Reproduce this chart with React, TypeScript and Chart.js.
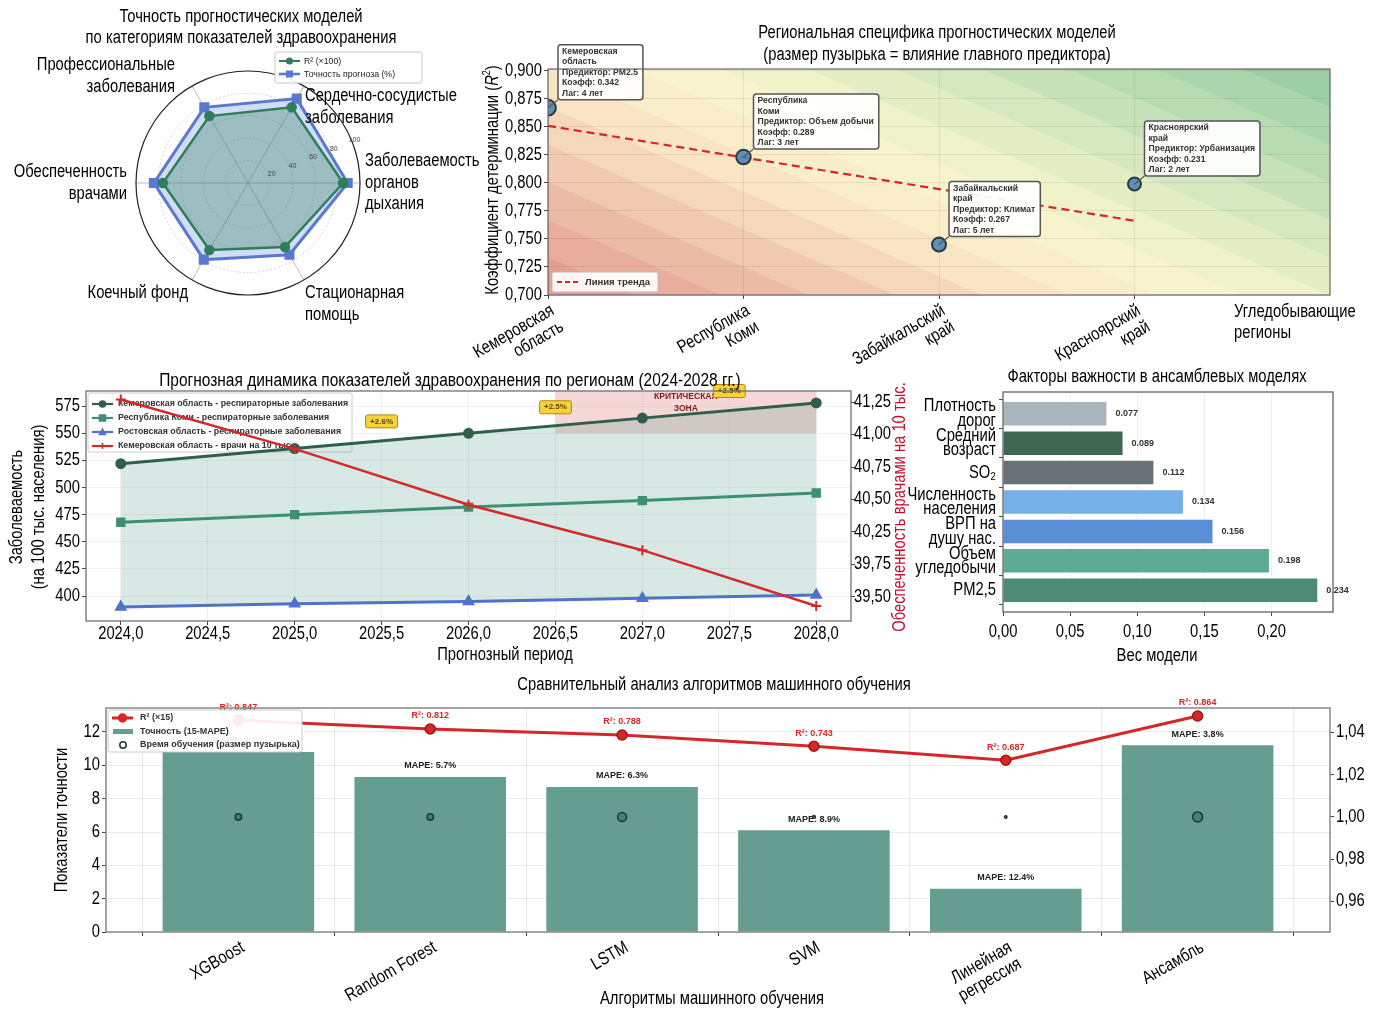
import React, { useEffect, useRef } from 'react';
import { Chart, registerables } from 'chart.js';

Chart.register(...registerables);

const FONT = "'Liberation Sans', Arial, 'DejaVu Sans', sans-serif";
Chart.defaults.font.family = FONT;
Chart.defaults.color = '#111';

// ---------------- Panel A: radar ----------------
const radarCategories: string[][] = [
  ['Заболеваемость', 'органов', 'дыхания'],
  ['Стационарная', 'помощь'],
  ['Коечный фонд'],
  ['Обеспеченность', 'врачами'],
  ['Профессиональные', 'заболевания'],
  ['Сердечно-сосудистые', 'заболевания'],
];
const radarR2x100 = [85, 66, 69, 76, 69, 78];
const radarAccuracy = [89, 74, 79, 84, 78, 87];
const radarTicks = [20, 40, 60, 80, 100];

// ---------------- Panel B: regions ----------------
const regionNames: string[][] = [
  ['Кемеровская', 'область'],
  ['Республика', 'Коми'],
  ['Забайкальский', 'край'],
  ['Красноярский', 'край'],
];
const regionR2 = [0.867, 0.823, 0.745, 0.799];
const regionPredictor = ['PM2.5', 'Объем добычи', 'Климат', 'Урбанизация'];
const regionCoef = [0.342, 0.289, 0.267, 0.231];
const regionLag = [4, 3, 5, 2];
const regionYTicks = [0.7, 0.725, 0.75, 0.775, 0.8, 0.825, 0.85, 0.875, 0.9];

// ---------------- Panel C: forecast ----------------
const forecastYears = [2024, 2025, 2026, 2027, 2028];
const kemerovoResp = [522, 536, 550, 564, 578];
const komiResp = [468, 475, 482, 488, 495];
const rostovResp = [390, 393, 395, 398, 401];
const kemerovoDoctors = [41.27, 40.89, 40.46, 40.11, 39.68];
const forecastXTicks = [2024, 2024.5, 2025, 2025.5, 2026, 2026.5, 2027, 2027.5, 2028];
const incidenceTicks = [400, 425, 450, 475, 500, 525, 550, 575];
const doctorTickValues = [39.75, 40, 40.25, 40.5, 40.75, 41, 41.25];
const doctorTickLabels = ['39,50', '39,75', '40,25', '40,50', '40,75', '41,00', '41,25'];
const growthX = [2025.5, 2026.5, 2027.5];
const growthY = [561, 574, 589];
const growthLabels = ['+2.6%', '+2.5%', '+2.5%'];
const criticalFrom = 2026.5;
const criticalTo = 2028;
const criticalLevel = 550;
const forecastSeriesNames = [
  'Кемеровская область - респираторные заболевания',
  'Республика Коми - респираторные заболевания',
  'Ростовская область - респираторные заболевания',
  'Кемеровская область - врачи на 10 тыс.',
];

// ---------------- Panel D: factors ----------------
const factorNames: (string | string[])[] = [
  ['Плотность', 'дорог'],
  ['Средний', 'возраст'],
  'SO₂',
  ['Численность', 'населения'],
  ['ВРП на', 'душу нас.'],
  ['Объем', 'угледобычи'],
  'PM2,5',
];
const factorWeights = [0.077, 0.089, 0.112, 0.134, 0.156, 0.198, 0.234];
const factorColors = ['#aab5bb', '#3f6653', '#6a7174', '#76b0e6', '#5a8fd8', '#5daa96', '#4e8b77'];
const factorXTicks = [0, 0.05, 0.1, 0.15, 0.2];

// ---------------- Panel E: algorithms ----------------
const algorithms: (string | string[])[] = ['XGBoost', 'Random Forest', 'LSTM', 'SVM', ['Линейная', 'регрессия'], 'Ансамбль'];
const mapePct = [4.2, 5.7, 6.3, 8.9, 12.4, 3.8];
const r2Scores = [0.847, 0.812, 0.788, 0.743, 0.687, 0.864];
const trainingTime = [10, 10, 20, 2, 1.5, 25];
const timeLevel = 1.0;
const accuracyTicks = [0, 2, 4, 6, 8, 10, 12];
const timeTicks = [0.96, 0.98, 1.0, 1.02, 1.04];

// ---------------- helpers ----------------
const BIG = 18;
const SX = 0.82;
const fmt = (v: number, d: number) => v.toFixed(d).replace('.', ',');
const F = (size: number, weight = 'normal', style = 'normal') => `${style} ${weight} ${size}px ${FONT}`;

function txt(ctx: any, s: string, x: number, y: number, font: string, color = '#000', align = 'center', baseline = 'middle', sx = 1) {
  ctx.save();
  ctx.font = font; ctx.fillStyle = color; ctx.textAlign = align; ctx.textBaseline = baseline;
  ctx.translate(x, y); ctx.scale(sx, 1); ctx.fillText(s, 0, 0);
  ctx.restore();
}
function T(ctx: any, s: string, x: number, y: number, align = 'center', color = '#000', size = BIG) {
  txt(ctx, s, x, y, F(size), color, align, 'middle', SX);
}
function rotT(ctx: any, s: string, x: number, y: number, color = '#000', size = BIG) {
  ctx.save(); ctx.translate(x, y); ctx.rotate(-Math.PI / 2); T(ctx, s, 0, 0, 'center', color, size); ctx.restore();
}
function rotLabel(ctx: any, lines: string[], x: number, y: number, deg: number, lh: number) {
  ctx.save(); ctx.translate(x, y); ctx.rotate((-deg * Math.PI) / 180);
  lines.forEach((l, j) => T(ctx, l, 0, lh * (j + 0.5), 'right'));
  ctx.restore();
}
function roundRect(ctx: any, x: number, y: number, w: number, h: number, r: number) {
  ctx.beginPath();
  ctx.moveTo(x + r, y); ctx.lineTo(x + w - r, y); ctx.arcTo(x + w, y, x + w, y + r, r);
  ctx.lineTo(x + w, y + h - r); ctx.arcTo(x + w, y + h, x + w - r, y + h, r);
  ctx.lineTo(x + r, y + h); ctx.arcTo(x, y + h, x, y + h - r, r);
  ctx.lineTo(x, y + r); ctx.arcTo(x, y, x + r, y, r); ctx.closePath();
}
function marker(ctx: any, style: string, x: number, y: number, r: number, fill: string, stroke: string, lw = 1.5) {
  ctx.save(); ctx.fillStyle = fill; ctx.strokeStyle = stroke; ctx.lineWidth = lw; ctx.setLineDash([]);
  ctx.beginPath();
  if (style === 'circle') { ctx.arc(x, y, r, 0, Math.PI * 2); ctx.fill(); ctx.stroke(); }
  else if (style === 'rect') { ctx.rect(x - r, y - r, 2 * r, 2 * r); ctx.fill(); ctx.stroke(); }
  else if (style === 'triangle') { ctx.moveTo(x, y - r); ctx.lineTo(x + r, y + r * 0.8); ctx.lineTo(x - r, y + r * 0.8); ctx.closePath(); ctx.fill(); ctx.stroke(); }
  else if (style === 'cross') { ctx.moveTo(x - r, y); ctx.lineTo(x + r, y); ctx.moveTo(x, y - r); ctx.lineTo(x, y + r); ctx.stroke(); }
  ctx.restore();
}
function legendLine(ctx: any, x: number, y: number, color: string, style: string, lw: number, mr: number, dash: number[] = []) {
  ctx.save(); ctx.strokeStyle = color; ctx.lineWidth = lw; ctx.setLineDash(dash);
  ctx.beginPath(); ctx.moveTo(x, y); ctx.lineTo(x + 21, y); ctx.stroke(); ctx.restore();
  if (style) marker(ctx, style, x + 10.5, y, mr, color, color);
}
const framePlugin = (color = '#555', lw = 1.2) => ({
  id: 'frame',
  afterDatasetsDraw(chart: any) {
    const { left, top, right, bottom } = chart.chartArea; const ctx = chart.ctx;
    ctx.save(); ctx.strokeStyle = color; ctx.lineWidth = lw; ctx.setLineDash([]);
    ctx.strokeRect(left, top, right - left, bottom - top); ctx.restore();
  },
});

type LabelSpec = {
  id: string; side: 'bottom' | 'left' | 'right'; values: number[]; labels: (string | string[])[];
  offset: number; rotate?: number; lh?: number;
};
const tickLabelPlugin = (specs: LabelSpec[]) => ({
  id: 'tickLabels',
  afterDraw(chart: any) {
    const ctx = chart.ctx; const ca = chart.chartArea;
    specs.forEach((sp) => {
      const sc = chart.scales[sp.id]; const lh = sp.lh ?? 20;
      sp.values.forEach((v, i) => {
        const lab = sp.labels[i]; const lines = Array.isArray(lab) ? lab : [lab]; const n = lines.length;
        const p = sc.getPixelForValue(v);
        if (sp.side === 'bottom') {
          if (sp.rotate) rotLabel(ctx, lines, p, ca.bottom + sp.offset, sp.rotate, lh);
          else lines.forEach((l, j) => T(ctx, l, p, ca.bottom + sp.offset + j * lh));
        } else if (sp.side === 'left') {
          lines.forEach((l, j) => T(ctx, l, ca.left - sp.offset, p + (j - (n - 1) / 2) * lh, 'right'));
        } else {
          lines.forEach((l, j) => T(ctx, l, ca.right + sp.offset, p + (j - (n - 1) / 2) * lh, 'left'));
        }
      });
    });
  },
});
const markGrid = (color: string) => ({ color, tickColor: '#444', tickLength: 4 });
const noTicks = { display: false };
const baseOpts = {
  responsive: false, maintainAspectRatio: false, animation: false as const, devicePixelRatio: 1,
  events: [] as any[],
};
const noPlugins = { legend: { display: false }, tooltip: { enabled: false }, title: { display: false } };
const setTicks = (vals: number[]) => (a: any) => { a.ticks = vals.map((v) => ({ value: v })); };

// ---------------- Panel A ----------------
const radarLabelLayout = [
  { dx: 117, dy: 0, align: 'left' },
  { dx: 57, dy: 121, align: 'left' },
  { dx: -60, dy: 110, align: 'right' },
  { dx: -121, dy: 0, align: 'right' },
  { dx: -73, dy: -107, align: 'right' },
  { dx: 57, dy: -76, align: 'left' },
];
function buildRadar(canvas: HTMLCanvasElement) {
  const deco = {
    id: 'radarDeco',
    beforeDatasetsDraw(chart: any) {
      const s = chart.scales.r; const ctx = chart.ctx; const cx = s.xCenter, cy = s.yCenter;
      ctx.save();
      ctx.strokeStyle = '#bdbdbd'; ctx.lineWidth = 1; ctx.setLineDash([]);
      for (let i = 0; i < radarCategories.length; i++) {
        const p = s.getPointPositionForValue(i, 100);
        ctx.beginPath(); ctx.moveTo(cx, cy); ctx.lineTo(p.x, p.y); ctx.stroke();
      }
      radarTicks.forEach((v) => {
        const d = s.getDistanceFromCenterForValue(v);
        ctx.beginPath(); ctx.arc(cx, cy, d, 0, Math.PI * 2);
        if (v === 100) { ctx.setLineDash([]); ctx.strokeStyle = '#222'; ctx.lineWidth = 1.2; }
        else { ctx.setLineDash([2, 2]); ctx.strokeStyle = '#c9c9c9'; ctx.lineWidth = 0.8; }
        ctx.stroke();
      });
      ctx.restore();
    },
    afterDraw(chart: any) {
      const s = chart.scales.r; const ctx = chart.ctx; const cx = s.xCenter, cy = s.yCenter;
      ctx.save();
      const a = (22.5 * Math.PI) / 180;
      radarTicks.forEach((v) => {
        const d = s.getDistanceFromCenterForValue(v);
        txt(ctx, String(v), cx + d * Math.cos(a) + 3, cy - d * Math.sin(a), F(7), '#444');
      });
      radarCategories.forEach((lines, i) => {
        const p = radarLabelLayout[i]; const n = lines.length;
        lines.forEach((ln, j) => T(ctx, ln, cx + p.dx, cy + p.dy + (j - (n - 1) / 2) * 21.5, p.align));
      });
      T(ctx, 'Точность прогностических моделей', 241, 17);
      T(ctx, 'по категориям показателей здравоохранения', 241, 38);
      ctx.fillStyle = 'rgba(255,255,255,0.9)'; ctx.strokeStyle = '#c8c8c8'; ctx.lineWidth = 1;
      roundRect(ctx, 275, 52, 147, 31, 2); ctx.fill(); ctx.stroke();
      legendLine(ctx, 279, 61, '#2e7d5b', 'circle', 2, 2.8);
      txt(ctx, 'R² (×100)', 304, 61, F(9.5), '#222', 'left', 'middle', 0.92);
      legendLine(ctx, 279, 74, '#5a78d0', 'rect', 2.5, 2.8);
      txt(ctx, 'Точность прогноза (%)', 304, 74, F(9.5), '#222', 'left', 'middle', 0.92);
      ctx.restore();
    },
  };
  return new Chart(canvas, {
    type: 'radar',
    data: {
      labels: radarCategories.map((l) => l.join(' ')),
      datasets: [
        {
          label: 'R² (×100)', data: radarR2x100, borderColor: '#2e7d5b', backgroundColor: 'rgba(46,125,91,0.33)',
          borderWidth: 2.5, pointRadius: 4, pointBackgroundColor: '#2e7d5b', pointBorderColor: '#2e7d5b', fill: true,
        },
        {
          label: 'Точность прогноза (%)', data: radarAccuracy, borderColor: '#5a78d0', backgroundColor: 'rgba(110,140,225,0.3)',
          borderWidth: 3, pointStyle: 'rect', pointRadius: 5, pointBackgroundColor: '#5a78d0', pointBorderColor: '#5a78d0', fill: true,
        },
      ],
    },
    options: {
      ...baseOpts,
      layout: { padding: { left: 136, top: 71, right: 130, bottom: 45 } },
      plugins: noPlugins,
      elements: { line: { tension: 0 } },
      scales: {
        r: {
          min: 0, max: 100, startAngle: 90,
          ticks: { display: false, stepSize: 20 },
          pointLabels: { display: false },
          grid: { display: false },
          angleLines: { display: false },
        },
      },
    } as any,
    plugins: [deco],
  });
}

// ---------------- Panel B ----------------
function contourColor(t: number) {
  const stops: [number, number[]][] = [
    [0, [226, 152, 142]], [0.4, [251, 236, 200]], [0.52, [249, 244, 206]], [0.64, [226, 238, 196]], [1, [150, 203, 163]],
  ];
  for (let i = 1; i < stops.length; i++) {
    if (t <= stops[i][0]) {
      const [t0, c0] = stops[i - 1]; const [t1, c1] = stops[i]; const k = (t - t0) / (t1 - t0);
      return c0.map((c, j) => Math.round(c + (c1[j] - c) * k));
    }
  }
  return stops[stops.length - 1][1];
}
function linFit(xs: number[], ys: number[]) {
  const n = xs.length; const mx = xs.reduce((a, b) => a + b, 0) / n; const my = ys.reduce((a, b) => a + b, 0) / n;
  let sxy = 0, sxx = 0;
  for (let i = 0; i < n; i++) { sxy += (xs[i] - mx) * (ys[i] - my); sxx += (xs[i] - mx) ** 2; }
  const slope = sxy / sxx; return { slope, intercept: my - slope * mx };
}
const B_LEFT = 455;
function buildRegions(canvas: HTMLCanvasElement) {
  const xs = regionR2.map((_, i) => i);
  const fit = linFit(xs, regionR2);
  const trend = [xs[0], xs[xs.length - 1]].map((x) => ({ x, y: fit.intercept + fit.slope * x }));
  const deco = {
    id: 'regionDeco',
    beforeDraw(chart: any) {
      const ctx = chart.ctx; const { left, top, width, height } = chart.chartArea;
      const w = Math.round(width), h = Math.round(height);
      const img = ctx.createImageData(w, h); const levels = 15;
      for (let y = 0; y < h; y++) {
        for (let x = 0; x < w; x++) {
          const u = x / w, v = 1 - y / h;
          const t = 0.6 * u + 0.4 * v;
          const q = Math.min(1, (Math.floor(t * levels) + 0.5) / levels);
          const c = contourColor(q); const k = (y * w + x) * 4;
          img.data[k] = c[0]; img.data[k + 1] = c[1]; img.data[k + 2] = c[2]; img.data[k + 3] = 255;
        }
      }
      ctx.putImageData(img, Math.round(left), Math.round(top));
    },
    afterDatasetsDraw(chart: any) {
      const ctx = chart.ctx; const xs2 = chart.scales.x, ys2 = chart.scales.y;
      ctx.save();
      const boxFont = F(8.6, 'bold'); const lhBox = 10.4;
      regionR2.forEach((r, i) => {
        const px = xs2.getPixelForValue(i), py = ys2.getPixelForValue(r);
        const lines = [...regionNames[i], `Предиктор: ${regionPredictor[i]}`, `Коэфф: ${regionCoef[i].toFixed(3)}`, `Лаг: ${regionLag[i]} лет`];
        ctx.font = boxFont;
        const wBox = Math.max(...lines.map((l) => ctx.measureText(l).width)) + 9;
        const hBox = lines.length * lhBox + 3;
        const bx = px + 10, by = py - 8 - hBox;
        ctx.strokeStyle = '#555'; ctx.lineWidth = 1.2; ctx.setLineDash([]);
        ctx.beginPath(); ctx.moveTo(px, py); ctx.lineTo(bx, py - 8); ctx.stroke();
        ctx.fillStyle = 'rgba(255,255,255,0.93)'; ctx.strokeStyle = '#555'; ctx.lineWidth = 1.5;
        roundRect(ctx, bx, by, wBox, hBox, 3); ctx.fill(); ctx.stroke();
        lines.forEach((l, j) => txt(ctx, l, bx + 4, by + 7 + j * lhBox, boxFont, '#333', 'left'));
      });
      const { left, bottom } = chart.chartArea;
      ctx.fillStyle = 'rgba(255,255,255,0.9)'; ctx.strokeStyle = '#bbb'; ctx.lineWidth = 1;
      roundRect(ctx, left + 4, bottom - 23, 106, 20, 2); ctx.fill(); ctx.stroke();
      legendLine(ctx, left + 9, bottom - 13, '#d62728', '', 2, 0, [5, 3]);
      txt(ctx, 'Линия тренда', left + 37, bottom - 13, F(9.5, 'bold'), '#333', 'left');
      ctx.restore();
    },
    afterDraw(chart: any) {
      const ctx = chart.ctx; const { right, bottom } = chart.chartArea;
      ctx.save();
      T(ctx, 'Региональная специфика прогностических моделей', 937 - B_LEFT, 33);
      T(ctx, '(размер пузырька = влияние главного предиктора)', 937 - B_LEFT, 55);
      T(ctx, 'Угледобывающие', right - 96, bottom + 17, 'left');
      T(ctx, 'регионы', right - 96, bottom + 38, 'left');
      // y title with italic R
      ctx.translate(493 - B_LEFT, 180); ctx.rotate(-Math.PI / 2); ctx.scale(SX, 1);
      const parts: [string, string][] = [['Коэффициент детерминации (', F(BIG)], ['R', F(BIG, 'normal', 'italic')], ['2', F(11)], [')', F(BIG)]];
      let total = 0; parts.forEach(([s, f]) => { ctx.font = f; total += ctx.measureText(s).width; });
      let x = -total / 2;
      parts.forEach(([s, f], i) => {
        ctx.font = f; ctx.fillStyle = '#000'; ctx.textAlign = 'left'; ctx.textBaseline = 'middle';
        ctx.fillText(s, x, i === 2 ? -6 : 0); x += ctx.measureText(s).width;
      });
      ctx.restore();
    },
  };
  return new Chart(canvas, {
    type: 'bubble',
    data: {
      datasets: [
        {
          type: 'bubble', label: 'Регионы',
          data: regionR2.map((y, i) => ({ x: i, y, r: Math.sqrt(regionCoef[i]) * 13.5 })),
          backgroundColor: 'rgba(74,130,182,0.88)', borderColor: '#2a3b40', borderWidth: 2, clip: 0,
        },
        {
          type: 'line', label: 'Линия тренда', data: trend, borderColor: '#d62728', borderDash: [8, 5],
          borderWidth: 2.2, pointRadius: 0, fill: false,
        },
      ],
    } as any,
    options: {
      ...baseOpts,
      layout: { padding: { left: 548 - B_LEFT - 60, right: 51, top: 69, bottom: 35 } },
      plugins: noPlugins,
      scales: {
        x: {
          type: 'linear', min: 0, max: 4, offset: false,
          afterBuildTicks: setTicks(xs),
          afterFit: (s: any) => { s.height = 40; },
          ticks: noTicks, grid: markGrid('rgba(0,0,0,0.07)'), border: { display: false },
        },
        y: {
          type: 'linear', min: 0.7, max: 0.9015,
          afterBuildTicks: setTicks(regionYTicks),
          afterFit: (s: any) => { s.width = 60; },
          ticks: noTicks, grid: markGrid('rgba(0,0,0,0.07)'), border: { display: false },
        },
      },
    } as any,
    plugins: [
      deco, framePlugin('#666', 1.2),
      tickLabelPlugin([
        { id: 'x', side: 'bottom', values: xs, labels: regionNames, offset: 6, rotate: 30, lh: 19 },
        { id: 'y', side: 'left', values: regionYTicks, labels: regionYTicks.map((v) => fmt(v, 3)), offset: 6 },
      ]),
    ],
  });
}

// ---------------- Panel C ----------------
const forecastColors = ['#2f5f4b', '#3e9170', '#5170cf', '#d42a2a'];
const forecastMarkers = ['circle', 'rect', 'triangle', 'cross'];
function buildForecast(canvas: HTMLCanvasElement) {
  const deco = {
    id: 'forecastDeco',
    beforeDatasetsDraw(chart: any) {
      const ctx = chart.ctx; const xs = chart.scales.x, ys = chart.scales.y; const { top } = chart.chartArea;
      ctx.save();
      const x0 = xs.getPixelForValue(criticalFrom), x1 = xs.getPixelForValue(criticalTo), y0 = ys.getPixelForValue(criticalLevel);
      ctx.fillStyle = 'rgba(200,45,45,0.19)'; ctx.fillRect(x0, top, x1 - x0, y0 - top);
      ctx.fillStyle = 'rgba(255,255,255,0.85)'; ctx.strokeStyle = '#ccc'; ctx.lineWidth = 1;
      roundRect(ctx, 88, 28, 264, 59, 2); ctx.fill(); ctx.stroke();
      forecastSeriesNames.forEach((n, i) => {
        const y = 39 + i * 14;
        legendLine(ctx, 92, y, forecastColors[i], forecastMarkers[i], 2.2, 3);
        txt(ctx, n, 118, y, F(8.8, 'bold'), '#333', 'left');
      });
      ctx.restore();
    },
    afterDatasetsDraw(chart: any) {
      const ctx = chart.ctx; const xs = chart.scales.x, ys = chart.scales.y; const { top } = chart.chartArea;
      ctx.save();
      const cxz = (xs.getPixelForValue(criticalFrom) + xs.getPixelForValue(criticalTo)) / 2;
      txt(ctx, 'КРИТИЧЕСКАЯ', cxz, top + 6, F(8.5, 'bold'), '#7a1e1e');
      txt(ctx, 'ЗОНА', cxz, top + 18, F(8.5, 'bold'), '#7a1e1e');
      growthX.forEach((gx, i) => {
        const px = xs.getPixelForValue(gx), py = ys.getPixelForValue(growthY[i]);
        ctx.fillStyle = '#f3d23c'; ctx.strokeStyle = '#b8860b'; ctx.lineWidth = 1;
        roundRect(ctx, px - 16, py - 6.5, 32, 13, 2); ctx.fill(); ctx.stroke();
        txt(ctx, growthLabels[i], px, py, F(8, 'bold'), '#5a4500');
      });
      ctx.restore();
    },
    afterDraw(chart: any) {
      const ctx = chart.ctx;
      ctx.save();
      txt(ctx, 'Прогнозная динамика показателей здравоохранения по регионам (2024-2028 гг.)', 450, 16, F(BIG), '#000', 'center', 'middle', 0.86);
      rotT(ctx, 'Заболеваемость', 17, 142);
      rotT(ctx, '(на 100 тыс. населения)', 39, 142);
      rotT(ctx, 'Обеспеченность врачами на 10 тыс.', 900, 142, '#c0102a');
      T(ctx, 'Прогнозный период', 505, 290);
      ctx.restore();
    },
  };
  const series = [kemerovoResp, komiResp, rostovResp];
  const datasets: any[] = series.map((vals, i) => ({
    label: forecastSeriesNames[i],
    data: forecastYears.map((x, j) => ({ x, y: vals[j] })),
    borderColor: forecastColors[i], pointBackgroundColor: forecastColors[i], pointBorderColor: forecastColors[i],
    pointStyle: forecastMarkers[i], pointRadius: i === 0 ? 4 : 4.5, borderWidth: 3, yAxisID: 'y', order: i + 1,
    fill: i === 0 ? '+2' : false, backgroundColor: i === 0 ? 'rgba(60,140,120,0.2)' : forecastColors[i],
  }));
  datasets.push({
    label: forecastSeriesNames[3],
    data: forecastYears.map((x, j) => ({ x, y: kemerovoDoctors[j] })),
    borderColor: forecastColors[3], pointBackgroundColor: forecastColors[3], pointBorderColor: forecastColors[3],
    pointStyle: 'cross', pointRadius: 5, pointBorderWidth: 2, borderWidth: 2.5, yAxisID: 'y1', order: 0, fill: false,
  });
  return new Chart(canvas, {
    type: 'line',
    data: { datasets },
    options: {
      ...baseOpts,
      layout: { padding: { left: 6, right: 19, top: 26, bottom: 24 } },
      plugins: { ...noPlugins, filler: { propagate: false } },
      elements: { line: { tension: 0 } },
      scales: {
        x: {
          type: 'linear', min: 2023.8, max: 2028.2,
          afterBuildTicks: setTicks(forecastXTicks),
          afterFit: (s: any) => { s.height = 30; },
          ticks: noTicks, grid: markGrid('rgba(0,0,0,0.05)'), border: { display: false },
        },
        y: {
          type: 'linear', position: 'left', min: 377, max: 589,
          afterBuildTicks: setTicks(incidenceTicks),
          afterFit: (s: any) => { s.width = 80; },
          ticks: noTicks, grid: markGrid('rgba(0,0,0,0.05)'), border: { display: false },
        },
        y1: {
          type: 'linear', position: 'right', min: 39.565, max: 41.335,
          afterBuildTicks: setTicks(doctorTickValues),
          afterFit: (s: any) => { s.width = 45; },
          ticks: noTicks, grid: { drawOnChartArea: false, tickColor: '#444', tickLength: 4 }, border: { display: false },
        },
      },
    } as any,
    plugins: [
      deco, framePlugin('#666', 1.2),
      tickLabelPlugin([
        { id: 'x', side: 'bottom', values: forecastXTicks, labels: forecastXTicks.map((v) => fmt(v, 1)), offset: 13 },
        { id: 'y', side: 'left', values: incidenceTicks, labels: incidenceTicks.map((v) => String(v)), offset: 6 },
        { id: 'y1', side: 'right', values: doctorTickValues, labels: doctorTickLabels, offset: 3 },
      ]),
    ],
  });
}

// ---------------- Panel D ----------------
function buildFactors(canvas: HTMLCanvasElement) {
  const idx = factorNames.map((_, i) => i);
  const deco = {
    id: 'factorDeco',
    afterDatasetsDraw(chart: any) {
      const ctx = chart.ctx; const meta = chart.getDatasetMeta(0);
      ctx.save();
      meta.data.forEach((el: any, i: number) => {
        txt(ctx, factorWeights[i].toFixed(3), el.x + 9, el.y, F(9, 'bold'), '#333', 'left');
      });
      ctx.restore();
    },
    afterDraw(chart: any) {
      const ctx = chart.ctx;
      ctx.save();
      T(ctx, 'Факторы важности в ансамблевых моделях', 252, 12);
      T(ctx, 'Вес модели', 252, 291);
      ctx.restore();
    },
  };
  return new Chart(canvas, {
    type: 'bar',
    data: {
      datasets: [{
        label: 'Вес', data: factorWeights.map((w, i) => ({ x: w, y: i })),
        backgroundColor: factorColors, borderWidth: 0, barPercentage: 0.8, categoryPercentage: 1,
      }],
    } as any,
    options: {
      ...baseOpts,
      indexAxis: 'y',
      layout: { padding: { left: 0, right: 48, top: 27, bottom: 33 } },
      plugins: noPlugins,
      scales: {
        x: {
          type: 'linear', min: 0, max: 0.2457, offset: false,
          afterBuildTicks: setTicks(factorXTicks),
          afterFit: (s: any) => { s.height = 30; },
          ticks: noTicks, grid: markGrid('rgba(0,0,0,0.06)'), border: { display: false },
        },
        y: {
          type: 'linear', min: -0.74, max: 6.74, reverse: true, offset: false,
          afterBuildTicks: setTicks(idx),
          afterFit: (s: any) => { s.width = 98; },
          ticks: noTicks, grid: { display: true, drawOnChartArea: false, tickColor: '#444', tickLength: 4 }, border: { display: false },
        },
      },
    } as any,
    plugins: [
      deco, framePlugin('#777', 1.5),
      tickLabelPlugin([
        { id: 'x', side: 'bottom', values: factorXTicks, labels: factorXTicks.map((v) => fmt(v, 2)), offset: 20 },
        { id: 'y', side: 'left', values: idx, labels: factorNames, offset: 7, lh: 14.5 },
      ]),
    ],
  });
}

// ---------------- Panel E ----------------
function buildAlgorithms(canvas: HTMLCanvasElement) {
  const idx = algorithms.map((_, i) => i);
  const deco = {
    id: 'algoDeco',
    afterDatasetsDraw(chart: any) {
      const ctx = chart.ctx;
      ctx.save();
      const bars = chart.getDatasetMeta(2).data;
      bars.forEach((el: any, i: number) => txt(ctx, `MAPE: ${mapePct[i]}%`, el.x, el.y - 11, F(9, 'bold'), '#222'));
      const pts = chart.getDatasetMeta(0).data;
      pts.forEach((el: any, i: number) => txt(ctx, `R²: ${r2Scores[i].toFixed(3)}`, el.x, el.y - 13, F(9, 'bold'), '#d62728'));
      ctx.restore();
    },
    afterDraw(chart: any) {
      const ctx = chart.ctx;
      ctx.save();
      ctx.fillStyle = 'rgba(255,255,255,0.92)'; ctx.strokeStyle = '#ccc'; ctx.lineWidth = 1;
      roundRect(ctx, 108, 38, 194, 42, 2); ctx.fill(); ctx.stroke();
      legendLine(ctx, 112, 46, '#d62728', 'circle', 3, 4);
      txt(ctx, 'R² (×15)', 140, 46, F(9, 'bold'), '#333', 'left');
      ctx.fillStyle = '#659d91'; ctx.fillRect(113, 57, 20, 5);
      txt(ctx, 'Точность (15-MAPE)', 140, 59.5, F(9, 'bold'), '#333', 'left');
      marker(ctx, 'circle', 123, 73, 3.2, 'rgba(255,255,255,0.6)', '#1c3a32', 1.5);
      txt(ctx, 'Время обучения (размер пузырька)', 140, 73, F(9, 'bold'), '#333', 'left');
      T(ctx, 'Сравнительный анализ алгоритмов машинного обучения', 714, 13);
      T(ctx, 'Алгоритмы машинного обучения', 712, 327);
      rotT(ctx, 'Показатели точности', 62, 148);
      ctx.restore();
    },
  };
  return new Chart(canvas, {
    type: 'bar',
    data: {
      datasets: [
        {
          type: 'line', label: 'R² (×15)', data: r2Scores.map((r, i) => ({ x: i, y: r * 15 })), yAxisID: 'y',
          borderColor: '#d62728', borderWidth: 3, pointRadius: 5, pointBackgroundColor: '#d62728', pointBorderColor: '#a31515',
          pointBorderWidth: 1.5, fill: false,
        },
        {
          type: 'bubble', label: 'Время обучения', data: trainingTime.map((t, i) => ({ x: i, y: timeLevel, r: Math.sqrt(t) })),
          yAxisID: 'y1', backgroundColor: 'rgba(40,95,80,0.5)', borderColor: '#1c3a32', borderWidth: 1.5,
        },
        {
          type: 'bar', label: 'Точность (15-MAPE)', data: mapePct.map((m, i) => ({ x: i, y: 15 - m })), yAxisID: 'y',
          backgroundColor: '#659d91', barPercentage: 0.79, categoryPercentage: 1,
        },
      ],
    } as any,
    options: {
      ...baseOpts,
      layout: { padding: { left: 6, right: 6, top: 36, bottom: 38 } },
      plugins: noPlugins,
      elements: { line: { tension: 0 } },
      scales: {
        x: {
          type: 'linear', min: -0.69, max: 5.69, offset: false,
          afterBuildTicks: setTicks(idx),
          afterFit: (s: any) => { s.height = 40; },
          ticks: noTicks, grid: markGrid('rgba(0,0,0,0.08)'), border: { display: false },
        },
        y: {
          type: 'linear', position: 'left', min: 0, max: 13.44,
          afterBuildTicks: setTicks(accuracyTicks),
          afterFit: (s: any) => { s.width = 100; },
          ticks: noTicks, grid: markGrid('rgba(0,0,0,0.08)'), border: { display: false },
        },
        y1: {
          type: 'linear', position: 'right', min: 0.9455, max: 1.0516,
          afterBuildTicks: setTicks(timeTicks),
          afterFit: (s: any) => { s.width = 45; },
          ticks: noTicks, grid: { drawOnChartArea: false, tickColor: '#444', tickLength: 4 }, border: { display: false },
        },
      },
    } as any,
    plugins: [
      deco, framePlugin('#888', 1.5),
      tickLabelPlugin([
        { id: 'x', side: 'bottom', values: idx, labels: algorithms, offset: 6, rotate: 30, lh: 19 },
        { id: 'y', side: 'left', values: accuracyTicks, labels: accuracyTicks.map((v) => String(v)), offset: 6 },
        { id: 'y1', side: 'right', values: timeTicks, labels: timeTicks.map((v) => fmt(v, 2)), offset: 6 },
      ]),
    ],
  });
}

export default function App() {
  const a = useRef<HTMLCanvasElement>(null);
  const b = useRef<HTMLCanvasElement>(null);
  const c = useRef<HTMLCanvasElement>(null);
  const d = useRef<HTMLCanvasElement>(null);
  const e = useRef<HTMLCanvasElement>(null);
  useEffect(() => {
    const charts = [
      buildRadar(a.current!),
      buildRegions(b.current!),
      buildForecast(c.current!),
      buildFactors(d.current!),
      buildAlgorithms(e.current!),
    ];
    return () => charts.forEach((ch) => ch.destroy());
  }, []);
  const pos = (l: number, t: number): React.CSSProperties => ({ position: 'absolute', left: l, top: t });
  return (
    <div style={{ position: 'absolute', left: 0, top: 0, width: 1381, height: 1010, background: '#fff', overflow: 'hidden' }}>
      <canvas ref={a} width={490} height={340} style={pos(0, 0)} />
      <canvas ref={b} width={1381 - B_LEFT} height={370} style={pos(B_LEFT, 0)} />
      <canvas ref={c} width={915} height={310} style={pos(0, 365)} />
      <canvas ref={d} width={476} height={310} style={pos(905, 365)} />
      <canvas ref={e} width={1381} height={338} style={pos(0, 672)} />
    </div>
  );
}
